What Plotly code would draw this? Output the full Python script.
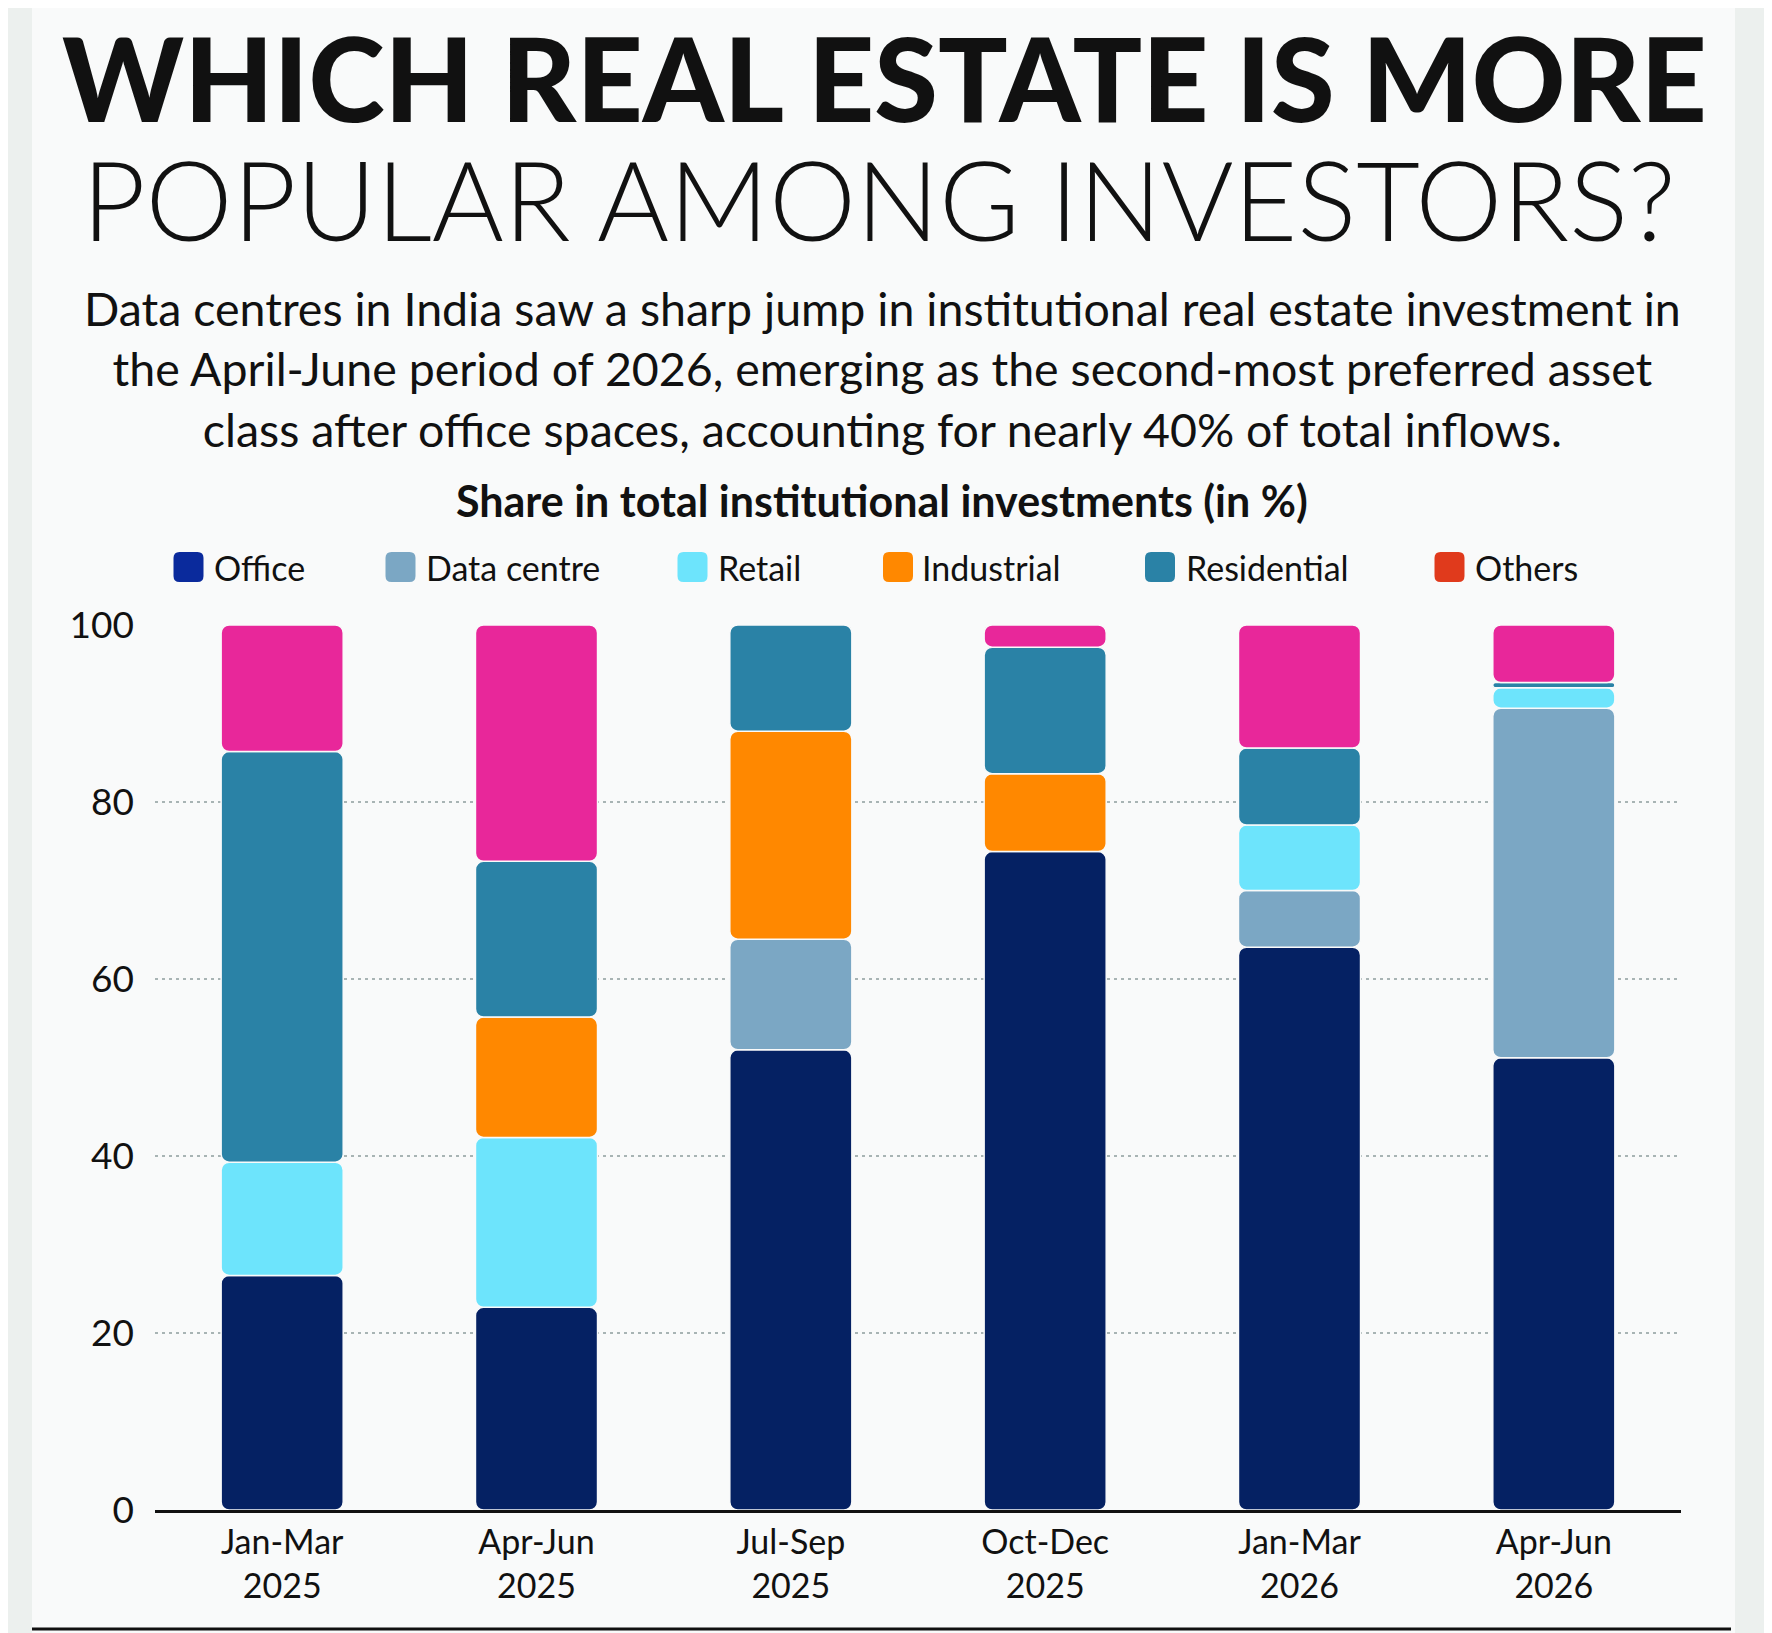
import plotly.graph_objects as go

# ---------------- data ----------------
periods = ["Jan-Mar<br>2025", "Apr-Jun<br>2025", "Jul-Sep<br>2025",
           "Oct-Dec<br>2025", "Jan-Mar<br>2026", "Apr-Jun<br>2026"]
series_names = ["Office", "Data centre", "Retail", "Industrial", "Residential", "Others"]
office      = [26.5, 22.9, 52.0, 74.4, 63.6, 51.1]
data_centre = [0.0, 0.0, 12.5, 0.0, 6.4, 39.5]
retail      = [12.8, 19.2, 0.0, 0.0, 7.4, 2.3]
industrial  = [0.0, 13.6, 23.5, 8.8, 0.0, 0.0]
residential = [46.4, 17.6, 12.0, 14.3, 8.7, 0.6]
others      = [14.3, 26.7, 0.0, 2.5, 13.9, 6.5]
y_ticks = [0, 20, 40, 60, 80, 100]

series_values = [office, data_centre, retail, industrial, residential, others]
bar_colors = ["#052163", "#7ba7c4", "#6de4fc", "#ff8800", "#2a82a6", "#e8279a"]
legend_colors = ["#0a2a9c", "#7ba7c4", "#6de4fc", "#ff8800", "#2a82a6", "#e03a1c"]

# ---------------- geometry (reference pixel coords, page has 8px body margin) ----------------
OFF = 8
W, H = 1772 - OFF, 1633 - OFF
L, R, T, B = 155 - OFF, 91, 625 - OFF, 1633 - 1510
PW, PH = W - L - R, H - T - B

def px(x):
    return (x - OFF - L) / PW

def py(y):
    return (H - B - (y - OFF)) / PH

PANEL = "#f9fafa"
TXT = "#111111"
FONT = "Lato"

fig = go.Figure()

# stacked bars drawn as overlaid bars with explicit bases so every segment is rounded
base = [0.0] * len(periods)
for name, vals, col in zip(series_names, series_values, bar_colors):
    yv = [v if v > 0 else None for v in vals]
    fig.add_trace(go.Bar(
        x=periods, y=yv, base=base[:], name=name,
        marker=dict(color=col, cornerradius=8, line=dict(color=PANEL, width=1.5)),
        width=0.48, showlegend=False,
        hovertemplate=name + ": %{y}%<extra></extra>",
    ))
    base = [b + v for b, v in zip(base, vals)]

shapes = []
shapes.append(dict(type="rect", xref="paper", yref="paper", layer="below",
                   x0=px(32), x1=px(1735), y0=py(0), y1=py(1640),
                   fillcolor=PANEL, line=dict(width=0)))
shapes.append(dict(type="rect", xref="paper", yref="paper", layer="below",
                   x0=px(1765), x1=px(1780), y0=py(0), y1=py(1640),
                   fillcolor="#f6f1d3", line=dict(width=0)))
shapes.append(dict(type="line", xref="paper", yref="paper",
                   x0=px(32), x1=px(1731), y0=py(1629), y1=py(1629),
                   line=dict(color="#111111", width=3)))

annotations = []
annotations.append(dict(text="WHICH REAL ESTATE IS MORE", x=px(884), y=py(77),
                        xref="paper", yref="paper", showarrow=False,
                        xanchor="center", yanchor="middle",
                        font=dict(family=FONT, size=115.5, color=TXT, weight=900)))
annotations.append(dict(text="POPULAR AMONG INVESTORS?", x=px(879), y=py(198),
                        xref="paper", yref="paper", showarrow=False,
                        xanchor="center", yanchor="middle",
                        font=dict(family=FONT, size=110, color=TXT, weight=300)))
annotations.append(dict(
    text=("Data centres in India saw a sharp jump in institutional real estate investment in<br>"
          "the April-June period of 2026, emerging as the second-most preferred asset<br>"
          "class after office spaces, accounting for nearly 40% of total inflows."),
    x=px(882), y=py(368), xref="paper", yref="paper", showarrow=False,
    xanchor="center", yanchor="middle", align="center",
    font=dict(family=FONT, size=46.5, color=TXT)))
annotations.append(dict(text="<b>Share in total institutional investments (in %)</b>",
                        x=px(882), y=py(500), xref="paper", yref="paper", showarrow=False,
                        xanchor="center", yanchor="middle",
                        font=dict(family=FONT, size=43, color=TXT)))

# legend
marker_cx = [188.5, 400.5, 692.5, 898, 1160, 1449.5]
text_x = [212, 424, 716, 920, 1184, 1473]
leg_y = 567
s = 15
r = 6
rr = (f"M {-s+r},{-s} L {s-r},{-s} Q {s},{-s} {s},{-s+r} L {s},{s-r} Q {s},{s} {s-r},{s} "
      f"L {-s+r},{s} Q {-s},{s} {-s},{s-r} L {-s},{-s+r} Q {-s},{-s} {-s+r},{-s} Z")
for name, col, cx, tx in zip(series_names, legend_colors, marker_cx, text_x):
    shapes.append(dict(type="path", xref="paper", yref="paper",
                       xsizemode="pixel", ysizemode="pixel",
                       xanchor=px(cx), yanchor=py(leg_y), path=rr,
                       fillcolor=col, line=dict(width=0)))
    annotations.append(dict(text=name, x=px(tx), y=py(leg_y), xref="paper", yref="paper",
                            showarrow=False, xanchor="left", yanchor="middle",
                            font=dict(family=FONT, size=34, color=TXT)))

fig.update_layout(
    width=W, height=H,
    margin=dict(l=L, r=R, t=T, b=B, autoexpand=False),
    paper_bgcolor="#ecf0ee", plot_bgcolor="rgba(0,0,0,0)",
    barmode="overlay", showlegend=False,
    shapes=shapes, annotations=annotations,
    font=dict(family=FONT, color=TXT),
    xaxis=dict(showgrid=False, showline=True, linecolor="#111111", linewidth=3,
               ticks="", tickfont=dict(family=FONT, size=34, color=TXT),
               ticklabelstandoff=0, range=[-0.5, 5.5], fixedrange=True),
    yaxis=dict(range=[0, 100], tickvals=y_ticks, showgrid=True,
               gridcolor="#a8b4b4", gridwidth=2, griddash="3px,4px",
               zeroline=False, showline=False, ticks="",
               tickfont=dict(family=FONT, size=37, color=TXT),
               ticklabelstandoff=20, fixedrange=True),
)

fig.write_html("out.html")
